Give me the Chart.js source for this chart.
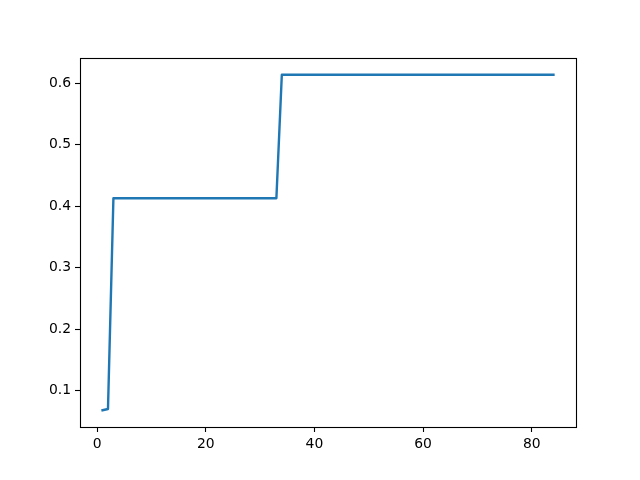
<!DOCTYPE html>
<html>
<head>
<meta charset="utf-8">
<script src="https://cdn.jsdelivr.net/npm/chart.js@4/dist/chart.umd.min.js"></script>
<style>
html,body{margin:0;padding:0;background:#fff;}
canvas{display:block;}
</style>
</head>
<body>
<canvas id="c" width="640" height="480"></canvas>
<script>
const xValues = [
  1, 2, 3, 4, 5, 6, 7, 8, 9,10,
 11,12,13,14,15,16,17,18,19,20,
 21,22,23,24,25,26,27,28,29,30,
 31,32,33,34,35,36,37,38,39,40,
 41,42,43,44,45,46,47,48,49,50,
 51,52,53,54,55,56,57,58,59,60,
 61,62,63,64,65,66,67,68,69,70,
 71,72,73,74,75,76,77,78,79,80,
 81,82,83,84];
const yValues = [
 0.068,0.070,0.413,0.413,0.413,0.413,0.413,0.413,0.413,0.413,
 0.413,0.413,0.413,0.413,0.413,0.413,0.413,0.413,0.413,0.413,
 0.413,0.413,0.413,0.413,0.413,0.413,0.413,0.413,0.413,0.413,
 0.413,0.413,0.413,0.614,0.614,0.614,0.614,0.614,0.614,0.614,
 0.614,0.614,0.614,0.614,0.614,0.614,0.614,0.614,0.614,0.614,
 0.614,0.614,0.614,0.614,0.614,0.614,0.614,0.614,0.614,0.614,
 0.614,0.614,0.614,0.614,0.614,0.614,0.614,0.614,0.614,0.614,
 0.614,0.614,0.614,0.614,0.614,0.614,0.614,0.614,0.614,0.614,
 0.614,0.614,0.614,0.614];
const xTicks = [0,20,40,60,80];
const yTicks = [0.1,0.2,0.3,0.4,0.5,0.6];

const points = xValues.map((x,i)=>({x:x, y:yValues[i]}));
const font = {family:'"DejaVu Sans"', size:13.9};

const frame = {
  id:'frame',
  afterDraw(chart){
    const a = chart.chartArea, ctx = chart.ctx;
    ctx.save();
    ctx.strokeStyle = '#000';
    ctx.lineWidth = 1.1;
    ctx.strokeRect(Math.round(a.left)+0.5, Math.round(a.top)+0.5, Math.round(a.right-a.left), Math.round(a.bottom-a.top));
    ctx.restore();
  }
};

new Chart(document.getElementById('c'), {
  type:'line',
  data:{datasets:[{data:points, borderColor:'#1f77b4', borderWidth:2.4, pointRadius:0, tension:0, fill:false, borderJoinStyle:'round', borderCapStyle:'square'}]},
  options:{
    responsive:false, animation:false, devicePixelRatio:1,
    layout:{padding:{top:58, right:64, left:0, bottom:0}},
    plugins:{legend:{display:false}, tooltip:{enabled:false}},
    scales:{
      x:{type:'linear', min:-3.15, max:88.15,
        afterBuildTicks(s){ s.ticks = xTicks.map(v=>({value:v})); },
        afterFit(s){ s.height = 53; },
        grid:{drawOnChartArea:false, color:'#000', tickLength:5, tickWidth:1.1, tickColor:'#000'},
        border:{display:false},
        ticks:{font:font, color:'#000', padding:4, maxRotation:0, callback:v=>String(v)}
      },
      y:{type:'linear', min:0.0407, max:0.6413,
        afterBuildTicks(s){ s.ticks = yTicks.map(v=>({value:v})); },
        afterFit(s){ s.width = 80; },
        grid:{drawOnChartArea:false, color:'#000', tickLength:5, tickWidth:1.1, tickColor:'#000'},
        border:{display:false},
        ticks:{font:font, color:'#000', padding:4, callback:v=>Number(v).toFixed(1)}
      }
    }
  },
  plugins:[frame]
});
</script>
</body>
</html>
